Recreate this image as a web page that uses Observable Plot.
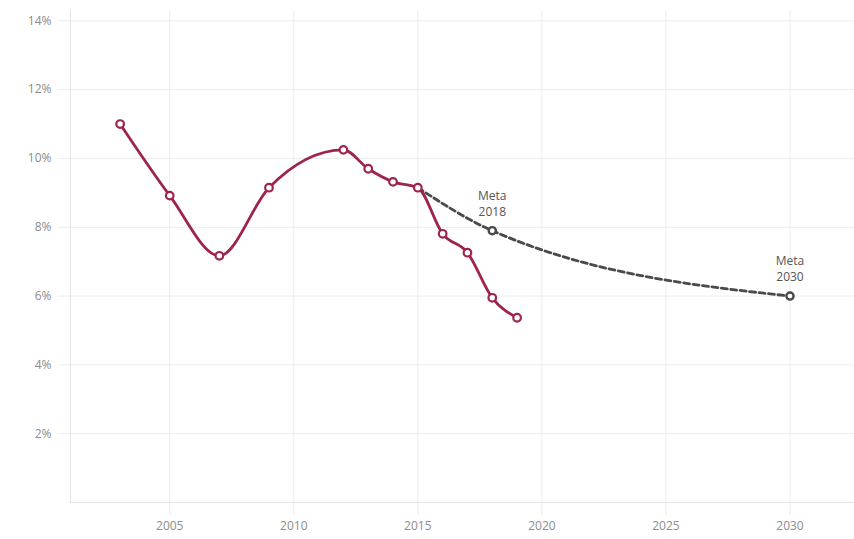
<!DOCTYPE html>
<html>
<head>
<meta charset="utf-8">
<script src="https://cdn.jsdelivr.net/npm/d3@7"></script>
<script src="https://cdn.jsdelivr.net/npm/@observablehq/plot@0.6"></script>
<style>
  html, body { margin: 0; padding: 0; background: #fff; }
  #chart svg { display: block; }
</style>
</head>
<body>
<div id="chart"></div>
<script>
const years = [2003, 2005, 2007, 2009, 2012, 2013, 2014, 2015, 2016, 2017, 2018, 2019];
const values = [11.0, 8.92, 7.17, 9.15, 10.25, 9.70, 9.32, 9.15, 7.81, 7.26, 5.95, 5.37];
const targetYears = [2015, 2018, 2030];
const targetValues = [9.15, 7.9, 6.0];
const targetLabels = ["", "Meta\n2018", "Meta\n2030"];
const xTicks = [2005, 2010, 2015, 2020, 2025, 2030];
const yTicks = [2, 4, 6, 8, 10, 12, 14];

const series = years.map((y, i) => ({year: y, value: values[i]}));
const targets = targetYears.map((y, i) => ({year: y, value: targetValues[i], label: targetLabels[i]}));

const red = "#9e2450";
const dark = "#4a4a4a";
const grid = "#ececec";

const chart = Plot.plot({
  width: 854,
  height: 539,
  marginLeft: 70,
  marginRight: 0,
  marginTop: 10,
  marginBottom: 37,
  style: {fontFamily: "'Open Sans', sans-serif", fontSize: "12px", background: "#fff"},
  x: {domain: [2001, 2032.6]},
  y: {domain: [0, 14.3]},
  marks: [
    Plot.gridX({ticks: xTicks, stroke: grid, strokeOpacity: 1}),
    Plot.gridY({ticks: yTicks, stroke: grid, strokeOpacity: 1}),
    Plot.axisX({ticks: xTicks, tickFormat: d => String(d), tickSize: 13, tickPadding: 6, stroke: grid, fill: "#8c8c8c", label: null}),
    Plot.axisY({ticks: yTicks, tickFormat: d => d + "%", tickSize: 12, tickPadding: 7, stroke: grid, fill: "#8c8c8c", label: null}),
    Plot.frame({anchor: "left", stroke: "#e4e4e4"}),
    Plot.frame({anchor: "bottom", stroke: "#e4e4e4"}),
    Plot.line(targets, {x: "year", y: "value", curve: "monotone-x", stroke: dark, strokeWidth: 2.8, strokeDasharray: "6,3.5"}),
    Plot.dot(targets.slice(1), {x: "year", y: "value", r: 3.6, stroke: dark, strokeWidth: 2.4, fill: "#fff"}),
    Plot.text(targets.slice(1), {x: "year", y: "value", text: "label", dy: -15, lineAnchor: "bottom", fill: "#555", fontSize: 12, lineHeight: 1.3}),
    Plot.line(series, {x: "year", y: "value", curve: "monotone-x", stroke: red, strokeWidth: 2.8}),
    Plot.dot(series, {x: "year", y: "value", r: 3.8, stroke: red, strokeWidth: 2.2, fill: "#fff"})
  ]
});
document.getElementById("chart").appendChild(chart);
</script>
</body>
</html>
